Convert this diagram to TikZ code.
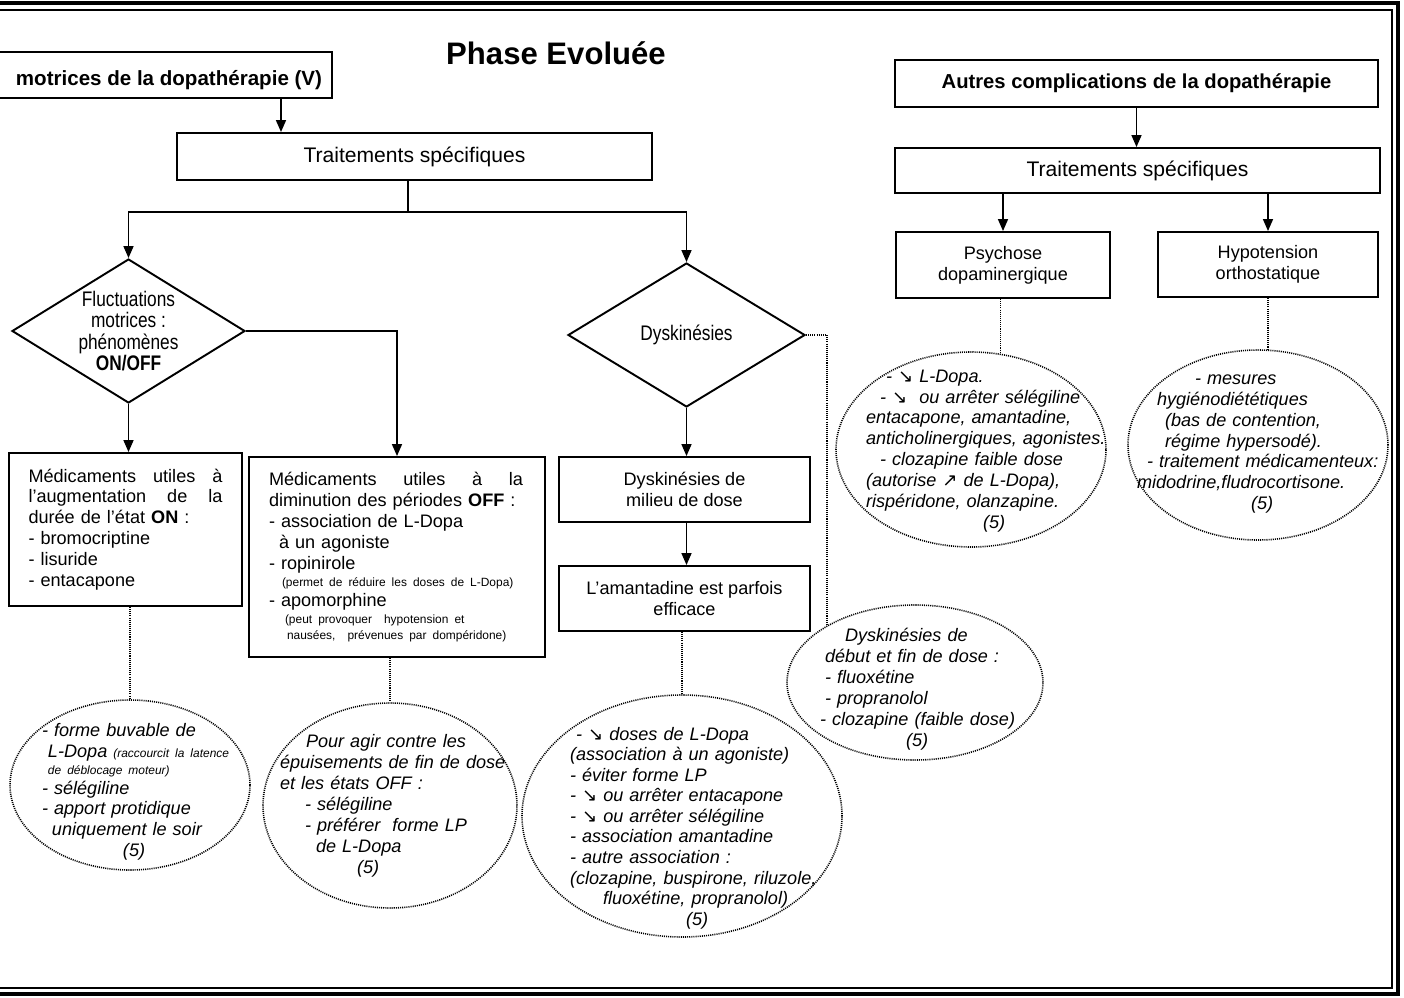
\documentclass[tikz,border=0pt]{standalone}
\usepackage{fontspec}
\setmainfont{Liberation Sans}
\newfontfamily\narrowfont[FakeStretch=0.82]{Liberation Sans}
\newfontfamily\symfont{DejaVu Sans}
\usetikzlibrary{positioning}
\usetikzlibrary{shapes.geometric}
\usetikzlibrary{arrows.meta}

\newlength\px
\setlength\px{0.02cm}
\hyphenpenalty=10000
\exhyphenpenalty=10000
\newcommand\bodyfont{\fontsize{10.3}{11.9}\selectfont}
\newcommand\smallnote{\fontsize{6.8}{8}\selectfont}
\newcommand\arrdn{{\symfont\char"2198}}
\newcommand\arrup{{\symfont\char"2197}}
\newcommand\jline[2]{\leavevmode\hbox to #1{#2}}

\begin{document}
\begin{tikzpicture}[x=0.02cm, y=-0.02cm,
  box/.style={draw, line width=1.1pt, inner sep=0pt, font=\bodyfont, align=center},
  choice/.style={draw, diamond, line width=1.1pt, inner sep=0pt, aspect=1.62,
    font=\narrowfont\fontsize{12}{12.2}\selectfont, align=center},
  bubble/.style={draw, ellipse, line width=0.9pt, dash pattern=on 0.6pt off 0.6pt, inner sep=0pt},
  note/.style={font=\bodyfont\itshape, align=left, inner sep=0pt},
  arr/.style={line width=0.9pt, -{Triangle[length=2.4mm,width=2mm]}},
  link/.style={line width=0.9pt},
  dots/.style={line width=0.9pt, dash pattern=on 0.6pt off 0.6pt}]

\useasboundingbox (0,0) rectangle (1404,998);

%frame
\draw[line width=2.4pt] (0,3) -- (1398,3) -- (1398,994) -- (0,994);
\draw[line width=0.8pt] (0,10) -- (1392,10) -- (1392,988) -- (0,988);

\node[font=\bfseries\fontsize{17.7}{20}\selectfont] (title) at (556,53) {Phase Evoluée};

%left part
\draw[line width=1.1pt] (0,52) -| (332,98) -- (0,98);
\node[font=\bfseries\fontsize{11.7}{13}\selectfont] (motr) at (169,80)
{motrices de la dopathérapie (V)};
\coordinate (motrbot) at (281,98);

\node[box, minimum width=475\px, minimum height=47\px, font=\fontsize{12}{14}\selectfont]
(trait1) at (414.5,156.5) {Traitements spécifiques};
\coordinate (fork) at (408,212);

\node[choice, minimum width=233\px, minimum height=144\px] (fluct) at (128.5,331)
{Fluctuations\\ motrices :\\ phénomènes\\ \textbf{ON/OFF}};
\node[choice, minimum width=237\px, minimum height=144\px] (dysk) at (686.5,335)
{Dyskinésies};

\node[box, minimum width=233\px, minimum height=153\px, text width=194\px, align=left]
(med1) at (125.5,529.5)
{\jline{194\px}{Médicaments\hfill utiles\hfill à}\\
\jline{194\px}{l'augmentation\hfill de\hfill la}\\
durée de l'état \textbf{ON} :\\
- bromocriptine\\
- lisuride\\
- entacapone};

\node[box, minimum width=296\px, minimum height=200\px, text width=256\px, align=left]
(med2) at (397,557)
{\jline{254\px}{Médicaments\hfill utiles\hfill à\hfill la}\\
diminution des périodes \textbf{OFF} :\\
- association de L-Dopa\\
\hspace*{10\px}à un agoniste\\
- ropinirole\\[-2pt]
\hspace*{13\px}\mbox{\smallnote (permet de réduire les doses de L-Dopa)}\\[-1pt]
- apomorphine\\[-2pt]
\hspace*{16\px}\mbox{\smallnote (peut provoquer\ \ hypotension et}\\[-3pt]
\hspace*{18\px}\mbox{\smallnote nausées,\ \ prévenues par dompéridone)}};

\node[box, minimum width=251\px, minimum height=65\px] (milieu) at (684.5,489.5)
{Dyskinésies de\\ milieu de dose};
\node[box, minimum width=251\px, minimum height=65\px] (amant) at (684.5,598.5)
{L'amantadine est parfois\\ efficace};

%bubbles
\node[bubble, minimum width=240\px, minimum height=170\px] (el1) at (130,785) {};
\node[note, text width=196\px] (el1t) at (140,792)
{- forme buvable de\\
\hspace*{6\px}L-Dopa \mbox{\smallnote (raccourcit la latence}\\[-2pt]
\hspace*{6\px}\mbox{\smallnote de déblocage moteur)}\\[-1pt]
- sélégiline\\
- apport protidique\\
\hspace*{10\px}uniquement le soir\\
\hspace*{81\px}(5)};

\node[bubble, minimum width=254\px, minimum height=205\px] (el2) at (390,805.5) {};
\node[note, text width=236\px] (el2t) at (398,806)
{\hspace*{26\px}Pour agir contre les\\
épuisements de fin de dose\\
et les états OFF :\\
\hspace*{25\px}- sélégiline\\
\hspace*{25\px}- préférer\ \ forme LP\\
\hspace*{36\px}de L-Dopa\\
\hspace*{77\px}(5)};

\node[bubble, minimum width=320\px, minimum height=242\px] (el3) at (682,816) {};
\node[note, text width=256\px, font=\fontsize{10.3}{11.7}\selectfont\itshape] (el3t) at (698,828)
{\hspace*{6\px}- \arrdn{} doses de L-Dopa\\
(association à un agoniste)\\
- éviter forme LP\\
- \arrdn{} ou arrêter entacapone\\
- \arrdn{} ou arrêter sélégiline\\
- association amantadine\\
- autre association :\\
(clozapine, buspirone, riluzole,\\
\hspace*{33\px}fluoxétine, propranolol)\\
\hspace*{116\px}(5)};

\node[bubble, minimum width=256\px, minimum height=155\px] (el4) at (915,682.5) {};
\node[note, text width=202\px] (el4t) at (921,689)
{\hspace*{25\px}Dyskinésies de\\
\hspace*{5\px}début et fin de dose :\\
\hspace*{5\px}- fluoxétine\\
\hspace*{5\px}- propranolol\\
- clozapine (faible dose)\\
\hspace*{86\px}(5)};

%right part
\node[box, minimum width=483\px, minimum height=47\px, font=\bfseries\fontsize{11.5}{13}\selectfont]
(autres) at (1136.5,83.5) {Autres complications de la dopathérapie};
\node[box, minimum width=485\px, minimum height=45\px, font=\fontsize{12}{14}\selectfont]
(trait2) at (1137.5,170.5) {Traitements spécifiques};
\node[box, minimum width=214\px, minimum height=66\px] (psych) at (1003,265)
{Psychose\\ dopaminergique};
\node[box, minimum width=220\px, minimum height=65\px] (hypot) at (1268,264.5)
{Hypotension\\ orthostatique};

\node[bubble, minimum width=270\px, minimum height=195\px] (el5) at (971,449.5) {};
\node[note, text width=242\px] (el5t) at (987,451)
{\hspace*{20\px}- \arrdn{} L-Dopa.\\
\hspace*{14\px}- \arrdn{}\ \ ou arrêter sélégiline\\
entacapone, amantadine,\\
anticholinergiques, agonistes.\\
\hspace*{14\px}- clozapine faible dose\\
(autorise \arrup{} de L-Dopa),\\
rispéridone, olanzapine.\\
\hspace*{117\px}(5)};

\node[bubble, minimum width=260\px, minimum height=190\px] (el6) at (1258,445) {};
\node[note, text width=262\px] (el6t) at (1268,444)
{\hspace*{58\px}- mesures\\
\hspace*{20\px}hygiénodiététiques\\
\hspace*{28\px}(bas de contention,\\
\hspace*{28\px}régime hypersodé).\\
\hspace*{10\px}- traitement médicamenteux:\\
midodrine,fludrocortisone.\\
\hspace*{114\px}(5)};

%arrows
\draw[arr] (motrbot) -- (motrbot |- trait1.north);
\draw[link] (fork |- trait1.south) -- (fork);
\draw[arr] (fork) -| (fluct.north);
\draw[arr] (fork) -| (dysk.north);
\draw[arr] (fluct.south) -- (fluct.south |- med1.north);
\draw[arr] (fluct.east) -| (med2.north);
\draw[arr] (dysk.south) -- (dysk.south |- milieu.north);
\draw[arr] (milieu.south -| dysk.south) -- (amant.north -| dysk.south);
\draw[arr] (autres.south) -- (autres.south |- trait2.north);
\draw[arr] (trait2.south -| psych.north) -- (psych.north);
\draw[arr] (trait2.south -| hypot.north) -- (hypot.north);

%dotted links
\draw[dots] (med1.south -| el1.north) -- (el1.north);
\draw[dots] (med2.south -| el2.north) -- (el2.north);
\draw[dots] (amant.south -| el3.north) -- (el3.north);
\draw[dots] (dysk.east) -| (el4.147);
\draw[dots] (psych.south -| el5.73) -- (el5.73);
\draw[dots] (hypot.south -| el6.84) -- (el6.84);

\end{tikzpicture}
\end{document}
